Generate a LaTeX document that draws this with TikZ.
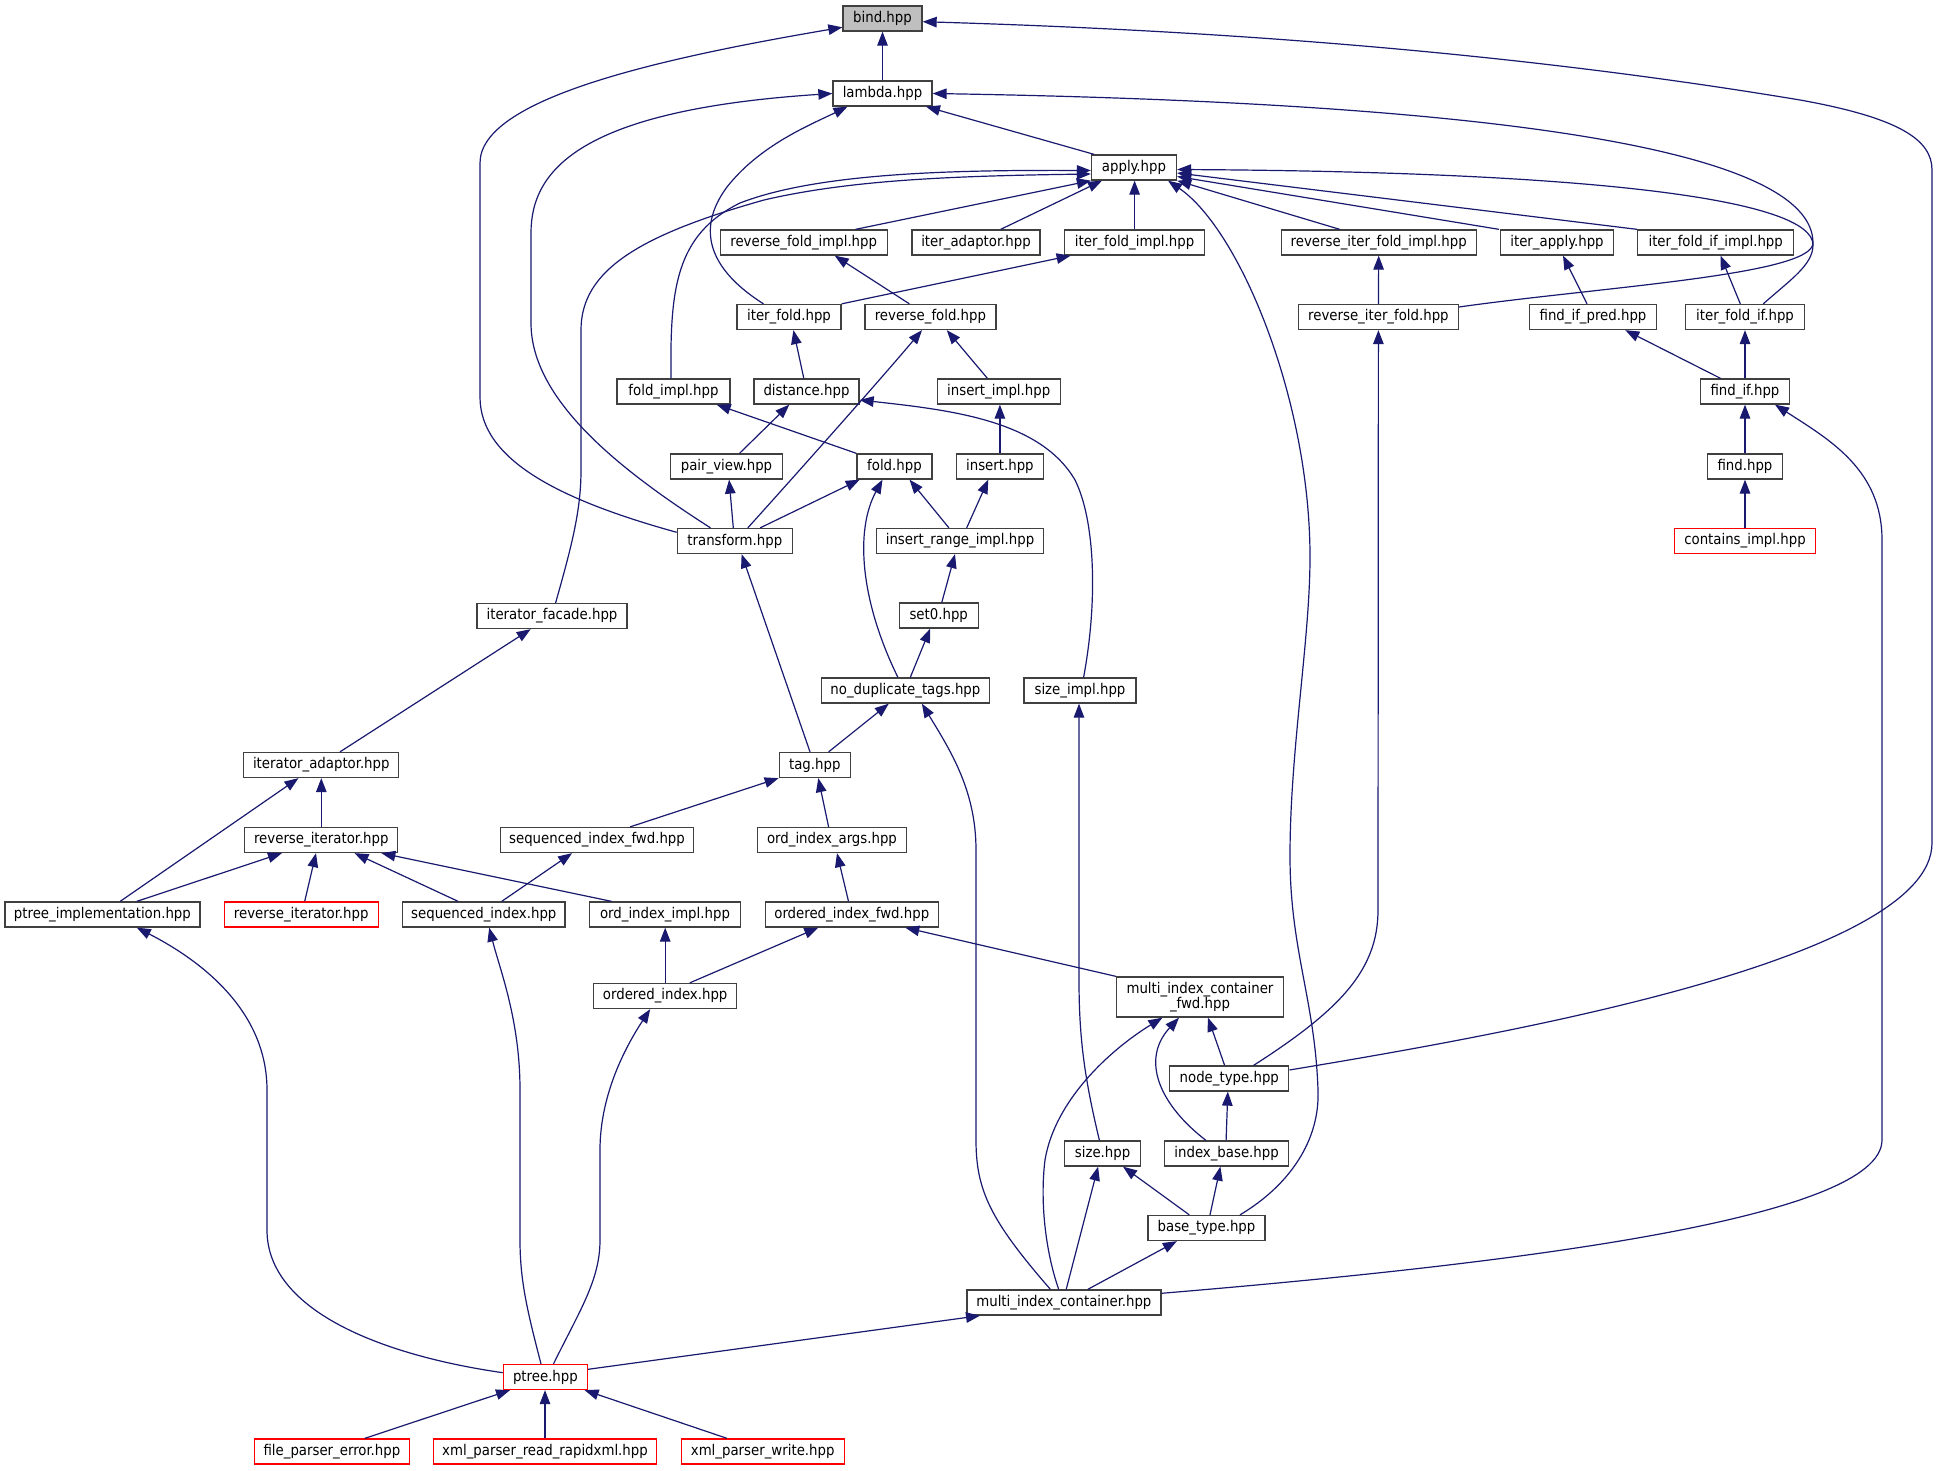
\documentclass[tikz,border=0pt]{standalone}
\usepackage{fontspec}
\setmainfont{DejaVu Sans Condensed}
\usetikzlibrary{arrows.meta}
\definecolor{eblue}{HTML}{191970}
\definecolor{nborder}{HTML}{404040}
\definecolor{bindfill}{HTML}{BFBFBF}
\newcommand\nfont{\fontsize{14.8}{14.6}\selectfont}
\tikzset{
  nd/.style={draw=nborder, line width=1.3pt, fill=white, minimum height=25pt, inner sep=0pt, font=\nfont, align=center},
  rnd/.style={nd, draw=red},
  ed/.style={draw=eblue, line width=1.2pt, -{Triangle[length=14pt,width=10.5pt]}},
}
\begin{document}
\begin{tikzpicture}[x=1pt,y=-1pt]
\fill[white] (0,0) rectangle (1939,1471);
\useasboundingbox (0,0) rectangle (1939,1471);
% nodes
\node[nd, fill=bindfill, minimum width=79pt] (bind) at (882.5,18.5) {bind.hpp};
\node[nd, minimum width=99pt] (lambda) at (882.5,93.5) {lambda.hpp};
\node[nd, minimum width=85pt] (apply) at (1134,167.5) {apply.hpp};
\node[nd, minimum width=167pt] (rfi) at (803.7,242.5) {reverse\_fold\_impl.hpp};
\node[nd, minimum width=128pt] (iad) at (976,242.5) {iter\_adaptor.hpp};
\node[nd, minimum width=140pt] (ifi) at (1134.6,242.5) {iter\_fold\_impl.hpp};
\node[nd, minimum width=195pt] (rifi) at (1378.7,242.5) {reverse\_iter\_fold\_impl.hpp};
\node[nd, minimum width=113pt] (iap) at (1557,242.5) {iter\_apply.hpp};
\node[nd, minimum width=156pt] (ifii) at (1715.7,242.5) {iter\_fold\_if\_impl.hpp};
\node[nd, minimum width=104pt] (ifo) at (789,317) {iter\_fold.hpp};
\node[nd, minimum width=131pt] (rf) at (930.4,317) {reverse\_fold.hpp};
\node[nd, minimum width=160pt] (rif) at (1378.4,317) {reverse\_iter\_fold.hpp};
\node[nd, minimum width=127pt] (fip) at (1593,317) {find\_if\_pred.hpp};
\node[nd, minimum width=119pt] (ifif) at (1745,317) {iter\_fold\_if.hpp};
\node[nd, minimum width=113pt] (fimpl) at (673.5,391.5) {fold\_impl.hpp};
\node[nd, minimum width=105pt] (dist) at (806.5,391.5) {distance.hpp};
\node[nd, minimum width=123pt] (iimpl) at (998.7,391.5) {insert\_impl.hpp};
\node[nd, minimum width=89pt] (findif) at (1745,391.5) {find\_if.hpp};
\node[nd, minimum width=112pt] (pv) at (726.5,466.5) {pair\_view.hpp};
\node[nd, minimum width=75pt] (fold) at (894.5,466.5) {fold.hpp};
\node[nd, minimum width=87pt] (ins) at (999.9,466.5) {insert.hpp};
\node[nd, minimum width=75pt] (find) at (1745,466.5) {find.hpp};
\node[nd, minimum width=115pt] (tr) at (734.8,541) {transform.hpp};
\node[nd, minimum width=167pt] (iri) at (960,541) {insert\_range\_impl.hpp};
\node[rnd, minimum width=141.5pt] (cont) at (1745,541) {contains\_impl.hpp};
\node[nd, minimum width=150pt] (ifac) at (552,616) {iterator\_facade.hpp};
\node[nd, minimum width=79pt] (set0) at (938.7,615.5) {set0.hpp};
\node[nd, minimum width=168pt] (ndt) at (905.4,690.5) {no\_duplicate\_tags.hpp};
\node[nd, minimum width=112pt] (simpl) at (1080,690.5) {size\_impl.hpp};
\node[nd, minimum width=155pt] (itad) at (321.3,765) {iterator\_adaptor.hpp};
\node[nd, minimum width=71pt] (tag) at (814.8,765) {tag.hpp};
\node[nd, minimum width=153pt] (rit) at (321.3,840) {reverse\_iterator.hpp};
\node[nd, minimum width=193pt] (sif) at (597,840) {sequenced\_index\_fwd.hpp};
\node[nd, minimum width=149pt] (oia) at (832,840) {ord\_index\_args.hpp};
\node[nd, minimum width=195pt] (pimpl) at (102.4,914.5) {ptree\_implementation.hpp};
\node[rnd, minimum width=154pt] (rit2) at (301.2,914.5) {reverse\_iterator.hpp};
\node[nd, minimum width=162.5pt] (si) at (483.8,914.5) {sequenced\_index.hpp};
\node[nd, minimum width=151pt] (oii) at (665,914.5) {ord\_index\_impl.hpp};
\node[nd, minimum width=173pt] (oif) at (851.8,914.5) {ordered\_index\_fwd.hpp};
\node[nd, minimum width=143pt] (oi) at (665.2,996) {ordered\_index.hpp};
\node[nd, minimum width=167pt, minimum height=40pt] (micf) at (1200,997) {multi\_index\_container\\\_fwd.hpp};
\node[nd, minimum width=119pt] (nt) at (1229.3,1078.5) {node\_type.hpp};
\node[nd, minimum width=76pt] (size) at (1102.6,1153.5) {size.hpp};
\node[nd, minimum width=124pt] (ib) at (1226.6,1153.5) {index\_base.hpp};
\node[nd, minimum width=117pt] (bt) at (1206.5,1228) {base\_type.hpp};
\node[nd, minimum width=194pt] (mic) at (1063.9,1302.5) {multi\_index\_container.hpp};
\node[rnd, minimum width=84pt] (ptree) at (545.4,1377) {ptree.hpp};
\node[rnd, minimum width=155pt] (fpe) at (331.9,1451.5) {file\_parser\_error.hpp};
\node[rnd, minimum width=223pt] (xprr) at (545,1451.5) {xml\_parser\_read\_rapidxml.hpp};
\node[rnd, minimum width=163pt] (xpw) at (762.7,1451.5) {xml\_parser\_write.hpp};
% edges to bind / lambda
\draw[ed] (lambda.north) -- (bind.south);
\draw[ed] ([xshift=-40pt]apply.north) -- ([xshift=43.5pt]lambda.south);
\draw[ed] ([xshift=-25.5pt]ifo.north) .. controls (710,270) and (695,230) .. (727,187) .. controls (760,145) and (810,125) .. ([xshift=-35pt]lambda.south);
\draw[ed] ([xshift=-24.3pt]tr.north) .. controls (620,470) and (531,400) .. (531,323) -- (531,233) .. controls (531,170) and (580,110) .. (lambda.west);
\draw[ed] ([yshift=8.7pt]tr.west) .. controls (560,500) and (480,460) .. (480,397) -- (480,163) .. controls (480,100) and (650,60) .. ([yshift=-8.8pt]bind.west);
\draw[ed] ([yshift=8.5pt]nt.east) .. controls (1500,1035) and (1932,960) .. (1932,843) -- (1932,170) .. controls (1932,140) and (1900,118) .. (1800,100) .. controls (1500,50) and (1200,30) .. ([yshift=-3.2pt]bind.east);
\draw[ed] ([yshift=10pt]rif.east) .. controls (1600,287) and (1813,275) .. (1813,243) .. controls (1813,150) and (1500,103) .. (lambda.east);
% edges to apply
\draw[ed] ([xshift=51.9pt]rfi.north) -- (apply.south west);
\draw[ed] ([xshift=24.7pt]iad.north) -- ([xshift=-32pt]apply.south);
\draw[ed] (ifi.north) -- (ifi.north |- apply.south);
\draw[ed] ([xshift=-39pt]rifi.north) -- (apply.south east);
\draw[ed] ([xshift=-58pt]iap.north) -- ([yshift=-9pt]apply.east);
\draw[ed] (ifii.north west) -- ([yshift=-5.5pt]apply.east);
\draw[ed] ([xshift=18.3pt]ifif.north) .. controls (1790,280) and (1813,265) .. (1813,245) .. controls (1813,200) and (1600,172) .. ([yshift=-2pt]apply.east);
\draw[ed] ([xshift=-2.5pt]fimpl.north) .. controls (670,290) and (675,235) .. (740,203) .. controls (820,172) and (960,170) .. ([yshift=-3pt]apply.west);
\draw[ed] ([xshift=3.6pt]ifac.north) .. controls (572,545) and (581,510) .. (581,470) -- (581,330) .. controls (581,270) and (640,235) .. (764,200) .. controls (850,180) and (950,176) .. ([yshift=-6.5pt]apply.west);
\draw[ed] ([xshift=33.5pt]bt.north) .. controls (1290,1185) and (1320,1140) .. (1318,1090) .. controls (1315,1000) and (1290,950) .. (1290,856) .. controls (1290,750) and (1310,640) .. (1310,557) .. controls (1310,400) and (1240,230) .. ([xshift=34pt]apply.south);
% rank 4-7
\draw[ed] ([xshift=-21pt]rf.north) -- ([xshift=31pt]rfi.south);
\draw[ed] (ifo.north east) -- ([xshift=-64pt]ifi.south);
\draw[ed] (rif.north) -- (rifi.south);
\draw[ed] ([xshift=-6pt]fip.north) -- ([xshift=6pt]iap.south);
\draw[ed] ([xshift=-4.7pt]ifif.north) -- ([xshift=4.8pt]ifii.south);
\draw[ed] ([xshift=-2.7pt]dist.north) -- ([xshift=4.4pt]ifo.south);
\draw[ed] ([xshift=-11.3pt]iimpl.north) -- ([xshift=16.4pt]rf.south);
\draw[ed] (findif.north) -- (ifif.south);
\draw[ed] ([xshift=-24.5pt]findif.north) -- ([xshift=32.3pt]fip.south);
\draw[ed] (find.north) -- (findif.south);
\draw[ed] (cont.north) -- (find.south);
\draw[ed] (fold.north west) -- ([xshift=43.2pt]fimpl.south);
\draw[ed] ([xshift=13pt]pv.north) -- ([xshift=-17.2pt]dist.south);
\draw[ed] (ins.north) -- (ins.north |- iimpl.south);
\draw[ed] ([xshift=3.6pt]simpl.north) .. controls (1098,600) and (1095,520) .. (1075,480) .. controls (1040,420) and (950,410) .. ([yshift=-8.5pt]dist.east);
\draw[ed] ([xshift=-1.5pt]tr.north) -- ([xshift=2.6pt]pv.south);
\draw[ed] ([xshift=25.4pt]tr.north) -- ([xshift=-34.8pt]fold.south);
\draw[ed] ([xshift=13pt]tr.north) .. controls (800,470) and (880,380) .. ([xshift=-8.4pt]rf.south);
\draw[ed] ([xshift=-11.1pt]iri.north) -- ([xshift=15pt]fold.south);
\draw[ed] ([xshift=6.7pt]iri.north) -- ([xshift=-11.6pt]ins.south);
\draw[ed] ([xshift=-7.5pt]ndt.north) .. controls (860,600) and (855,530) .. ([xshift=-12pt]fold.south);
% middle
\draw[ed] ([xshift=-4.8pt]tag.north) -- ([xshift=6.8pt]tr.south);
\draw[ed] ([xshift=3.1pt]set0.north) -- ([xshift=-5pt]iri.south);
\draw[ed] ([xshift=4.9pt]ndt.north) -- ([xshift=-8.5pt]set0.south);
\draw[ed] ([xshift=13.8pt]tag.north) -- ([xshift=-16.6pt]ndt.south);
\draw[ed] ([xshift=-13.5pt]mic.north) .. controls (990,1220) and (976,1190) .. (976,1140) -- (976,850) .. controls (976,790) and (950,750) .. ([xshift=16.5pt]ndt.south);
\draw[ed] ([xshift=-3.2pt]size.north) .. controls (1085,1080) and (1079,1040) .. (1079,980) -- ([xshift=-1pt]simpl.south);
\draw[ed] ([xshift=18.7pt]itad.north) -- ([xshift=-21.3pt]ifac.south);
\draw[ed] (rit.north) -- (itad.south);
\draw[ed] ([xshift=17.8pt]pimpl.north) -- ([xshift=-22.8pt]itad.south);
\draw[ed] ([xshift=34.4pt]pimpl.north) -- ([xshift=-39.4pt]rit.south);
\draw[ed] ([xshift=3.5pt]rit2.north) -- ([xshift=-5.3pt]rit.south);
\draw[ed] ([xshift=-25.7pt]si.north) -- ([xshift=33.2pt]rit.south);
\draw[ed] ([xshift=-53.5pt]oii.north) -- ([xshift=60.1pt]rit.south);
\draw[ed] ([xshift=17.9pt]si.north) -- ([xshift=-24.9pt]sif.south);
\draw[ed] ([xshift=33.2pt]sif.north) -- (tag.south west);
\draw[ed] ([xshift=-3.4pt]oia.north) -- ([xshift=3.5pt]tag.south);
\draw[ed] ([xshift=-3.3pt]oif.north) -- ([xshift=5pt]oia.south);
\draw[ed] ([xshift=24.6pt]oi.north) -- ([xshift=-33.5pt]oif.south);
\draw[ed] (oi.north) -- (oi.north |- oii.south);
\draw[ed] (micf.north west) -- ([xshift=53.5pt]oif.south);
% lower right
\draw[ed] ([xshift=-4.7pt]nt.north) -- ([xshift=8pt]micf.south);
\draw[ed] ([xshift=-20.7pt]ib.north) .. controls (1160,1105) and (1140,1060) .. ([xshift=-21pt]micf.south);
\draw[ed] ([xshift=-5.2pt]mic.north) .. controls (1045,1250) and (1040,1200) .. (1045,1160) .. controls (1055,1100) and (1110,1050) .. ([xshift=-37.6pt]micf.south);
\draw[ed] ([xshift=-0.5pt]ib.north) -- ([xshift=-1.5pt]nt.south);
\draw[ed] ([xshift=3.5pt]bt.north) -- ([xshift=-6.2pt]ib.south);
\draw[ed] ([xshift=-17.2pt]bt.north) -- ([xshift=20.4pt]size.south);
\draw[ed] ([xshift=23.9pt]mic.north) -- ([xshift=-29.6pt]bt.south);
\draw[ed] ([xshift=2.3pt]mic.north) -- ([xshift=-4.5pt]size.south);
\draw[ed] ([yshift=9.2pt]mic.east) .. controls (1500,1265) and (1882,1220) .. (1882,1140) -- (1882,540) .. controls (1882,470) and (1830,440) .. ([xshift=30pt]findif.south);
\draw[ed] ([xshift=24.3pt]nt.north) .. controls (1340,1010) and (1378,970) .. (1378,910) -- (rif.south);
% ptree
\draw[ed] ([yshift=7.7pt]ptree.east) -- ([xshift=-83.9pt]mic.south);
\draw[ed] ([yshift=4.3pt]ptree.west) .. controls (380,1355) and (267,1310) .. (267,1230) -- (267,1090) .. controls (267,1010) and (200,960) .. ([xshift=34.4pt]pimpl.south);
\draw[ed] ([xshift=-4.4pt]ptree.north) .. controls (527,1310) and (520,1280) .. (520,1240) -- (520,1090) .. controls (520,1020) and (500,970) .. ([xshift=5.4pt]si.south);
\draw[ed] ([xshift=8.1pt]ptree.north) .. controls (580,1310) and (600,1280) .. (600,1240) -- (600,1150) .. controls (600,1090) and (630,1040) .. ([xshift=-15pt]oi.south);
\draw[ed] ([xshift=32.9pt]fpe.north) -- ([xshift=-35.4pt]ptree.south);
\draw[ed] (xprr.north) -- (xprr.north |- ptree.south);
\draw[ed] ([xshift=-35.7pt]xpw.north) -- ([xshift=39.2pt]ptree.south);
\end{tikzpicture}
\end{document}
